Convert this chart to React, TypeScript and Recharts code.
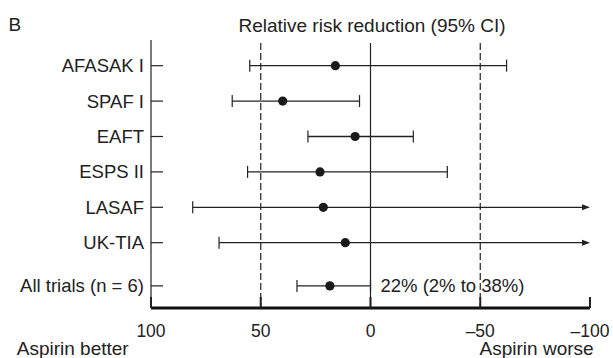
import React from 'react';
import { ScatterChart, Scatter, XAxis, YAxis, ReferenceLine } from 'recharts';

// rows top to bottom; last row is the pooled estimate
const trials = ['AFASAK I', 'SPAF I', 'EAFT', 'ESPS II', 'LASAF', 'UK-TIA', 'All trials (n = 6)'];
const rowPos = [0, 1, 2, 3, 4, 5, 6.22];
const rrr = [16, 40, 7, 23, 21.5, 11.5, 18.5];
const ciBetter = [55, 63, 28.5, 56, 81, 69, 33.5];
const ciWorse = [-62, 5, -19.5, -35, -100, -100, 0];
const openEnded = [false, false, false, false, true, true, false];
const xTicks = [100, 50, 0, -50, -100];
const refLines = [50, 0, -50];
const pooledText = '22% (2% to 38%)';

const INK = '#222';
const FONT = '"Liberation Sans", Arial, sans-serif';
const Y_MIN = -0.726;
const Y_MAX = 6.845;

const points = trials.map((name, i) => ({ name, x: rrr[i], y: rowPos[i] }));

const YTick = (props: any) => {
  const { x, y, payload } = props;
  const i = rowPos.indexOf(payload.value);
  return (
    <g>
      <line x1={x} x2={x + 12} y1={y} y2={y} stroke={INK} strokeWidth={1.2} />
      <text x={x - 7} y={y} dy="0.35em" textAnchor="end" fontSize={18.5} fill={INK} fontFamily={FONT}>
        {trials[i]}
      </text>
    </g>
  );
};

const XTick = (props: any) => {
  const { x, y, payload } = props;
  return (
    <g>
      <line x1={x} x2={x} y1={y} y2={y - 11} stroke={INK} strokeWidth={2} />
      <text x={x} y={y + 29} textAnchor="middle" fontSize={17.5} fill={INK} fontFamily={FONT}>
        {String(payload.value).replace('-', '\u2013')}
      </text>
    </g>
  );
};

const ciShape = (i: number) => (p: any) => {
  const { x1, x2, y1 } = p;
  const y = y1;
  return (
    <g>
      <line x1={x1} x2={openEnded[i] ? x2 - 6 : x2} y1={y} y2={y} stroke={INK} strokeWidth={1.3} />
      <line x1={x1} x2={x1} y1={y - 6} y2={y + 6} stroke={INK} strokeWidth={1.2} />
      {openEnded[i] ? (
        <path d={`M${x2},${y} L${x2 - 8},${y - 3} L${x2 - 8},${y + 3} Z`} fill={INK} />
      ) : (
        <line x1={x2} x2={x2} y1={y - 6} y2={y + 6} stroke={INK} strokeWidth={1.2} />
      )}
      {i === trials.length - 1 && (
        <text x={x2 + 10} y={y} dy="0.35em" fontSize={18.5} fill={INK} fontFamily={FONT}>
          {pooledText}
        </text>
      )}
    </g>
  );
};

const Dot = (p: any) => <circle cx={p.cx} cy={p.cy} r={4.6} fill="#1a1a1a" />;

export default function App() {
  return (
    <div style={{ position: 'absolute', left: 0, top: 0, width: 613, height: 358, background: '#fff' }}>
      <svg width={613} height={358} style={{ position: 'absolute', left: 0, top: 0 }}>
        <g fontFamily={FONT} fill={INK} fontSize={19}>
          <text x={8.5} y={31}>B</text>
          <text x={372} y={32} textAnchor="middle">Relative risk reduction (95% CI)</text>
          <text x={72.7} y={355} textAnchor="middle">Aspirin better</text>
          <text x={536.6} y={355} textAnchor="middle">Aspirin worse</text>
        </g>
      </svg>
      <div style={{ position: 'absolute', left: 0, top: 0 }}>
        <ScatterChart width={613} height={358} margin={{ top: 40, right: 23, bottom: 20, left: 0 }}>
          <XAxis
            type="number"
            dataKey="x"
            domain={[-100, 100]}
            reversed
            ticks={xTicks}
            interval={0}
            tickSize={0}
            tickMargin={0}
            tickLine={false}
            tick={<XTick />}
            height={30}
            axisLine={{ stroke: '#111', strokeWidth: 3 }}
            allowDataOverflow
          />
          <YAxis
            type="number"
            dataKey="y"
            domain={[Y_MIN, Y_MAX]}
            reversed
            ticks={rowPos}
            interval={0}
            tickSize={0}
            tickMargin={0}
            tickLine={false}
            tick={<YTick />}
            width={151}
            axisLine={{ stroke: INK, strokeWidth: 1.2 }}
            allowDataOverflow
          />
          {refLines.map((v) => (
            <ReferenceLine
              key={v}
              segment={[{ x: v, y: -0.64 }, { x: v, y: Y_MAX }]}
              stroke={INK}
              strokeWidth={1.2}
              strokeDasharray={v === 0 ? undefined : '7 3'}
            />
          ))}
          {trials.map((t, i) => (
            <ReferenceLine
              key={t}
              segment={[{ x: ciBetter[i], y: rowPos[i] }, { x: ciWorse[i], y: rowPos[i] }]}
              shape={ciShape(i)}
            />
          ))}
          <Scatter data={points} shape={<Dot />} isAnimationActive={false} />
        </ScatterChart>
      </div>
    </div>
  );
}
